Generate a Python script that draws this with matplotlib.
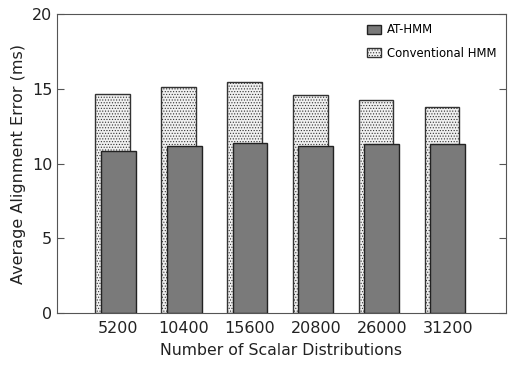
import matplotlib
matplotlib.use('Agg')
import matplotlib.pyplot as plt
import numpy as np

categories = ['5200', '10400', '15600', '20800', '26000', '31200']
conventional = [14.65, 15.1, 15.45, 14.58, 14.27, 13.78]
at_hmm = [10.83, 11.15, 11.35, 11.19, 11.3, 11.3]

plt.rcParams['hatch.color'] = '#a8a8a8'
plt.rcParams['hatch.linewidth'] = 0.5

fig = plt.figure(figsize=(5.15, 3.74), dpi=100)
ax = fig.add_axes([0.1107, 0.163, 0.8718, 0.7996])

x = np.arange(1, len(categories) + 1)
w = 0.53
ax.bar(x - 0.09, conventional, width=w, color='#f0f0f0', edgecolor='#333333',
       linewidth=1, hatch='......', label='Conventional HMM', zorder=2)
ax.bar(x, at_hmm, width=w, color='#7a7a7a', edgecolor='#222222',
       linewidth=1, label='AT-HMM', zorder=3)

ax.set_xlim(0.075, 6.88)
ax.set_ylim(0, 20)
ax.set_yticks([0, 5, 10, 15, 20])
ax.set_xticks(x)
ax.set_xticklabels(categories)
ax.tick_params(axis='y', direction='in', right=True, length=5, color='#555555',
               labelsize=11.5, colors='#222222')
ax.tick_params(axis='y', color='#555555')
ax.tick_params(axis='x', length=0, labelsize=11.5, pad=6, labelcolor='#222222')
for s in ax.spines.values():
    s.set_color('#555555')

ax.set_xlabel('Number of Scalar Distributions', fontsize=11.3, labelpad=5, color='#222222')
ax.set_ylabel('Average Alignment Error (ms)', fontsize=11.5, labelpad=4, color='#222222')

h, l = ax.get_legend_handles_labels()
ax.legend(h[::-1], l[::-1], loc='upper right', frameon=False, fontsize=8.4,
          handlelength=1.2, handleheight=0.8, labelspacing=0.9,
          borderaxespad=0.4, handletextpad=0.5)

fig.savefig('out.png', dpi=100)
